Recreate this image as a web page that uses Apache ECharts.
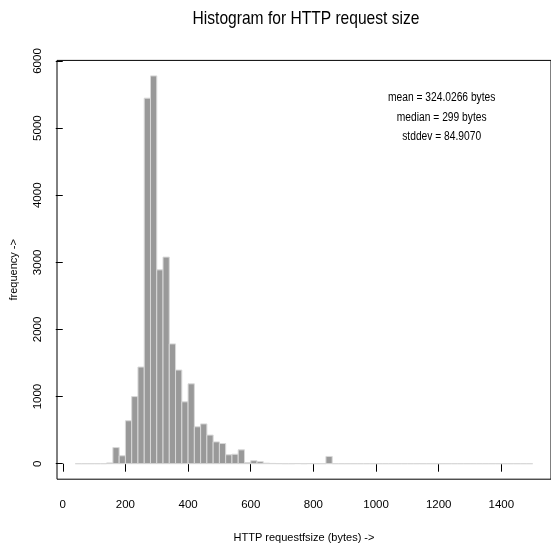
<!DOCTYPE html>
<html>
<head>
<meta charset="utf-8">
<script src="https://cdn.jsdelivr.net/npm/echarts@6/dist/echarts.min.js"></script>
<style>
  html, body { margin: 0; padding: 0; background: #fff; }
  #chart { width: 551px; height: 552px; }
</style>
</head>
<body>
<div id="chart"></div>
<script>
// Histogram bins: lower edge of each 20-byte bin and its count
const binWidth = 20;
const binLower = [
  40, 60, 80, 100, 120, 140, 160, 180, 200, 220, 240, 260, 280, 300, 320, 340,
  360, 380, 400, 420, 440, 460, 480, 500, 520, 540, 560, 580, 600, 620, 640, 660,
  680, 700, 720, 740, 760, 780, 800, 820, 840, 860, 880, 900, 920, 940, 960, 980,
  1000, 1020, 1040, 1060, 1080, 1100, 1120, 1140, 1160, 1180, 1200, 1220, 1240, 1260, 1280, 1300,
  1320, 1340, 1360, 1380, 1400, 1420, 1440, 1460, 1480
];
const binCount = [
  0, 0, 0, 0, 0, 12, 240, 118, 640, 1000, 1440, 5446, 5778, 2888, 3078, 1785,
  1395, 922, 1190, 550, 593, 426, 325, 300, 133, 141, 206, 18, 45, 30, 8, 4,
  2, 0, 0, 3, 0, 3, 0, 0, 108, 0, 0, 0, 0, 0, 0, 0,
  0, 0, 0, 0, 0, 0, 0, 0, 0, 0, 0, 0, 0, 0, 0, 0,
  0, 0, 0, 0, 0, 0, 0, 0, 0
];

// Axis tick values and summary statistics
const xTicks = [0, 200, 400, 600, 800, 1000, 1200, 1400];
const yTicks = [0, 1000, 2000, 3000, 4000, 5000, 6000];
const titleText = 'Histogram for HTTP request size';
const statLines = ['mean = 324.0266 bytes', 'median = 299 bytes', 'stddev = 84.9070'];

const FONT = '"Liberation Sans", Arial, sans-serif';
// horizontal squeeze to get a narrow Helvetica look
const NARROW = 0.82;

const histData = binLower.map((lo, i) => [lo, lo + binWidth, binCount[i]]);

const chart = echarts.init(document.getElementById('chart'), null, { renderer: 'canvas' });

const texts = [{
  type: 'text',
  x: 306, y: 19,
  scaleX: NARROW,
  style: {
    text: titleText, fill: '#000', font: '19px ' + FONT,
    textAlign: 'center', textVerticalAlign: 'middle'
  }
}].concat(statLines.map((t, i) => ({
  type: 'text',
  x: 441.7,
  y: 98 + i * 19.5,
  scaleX: NARROW,
  style: {
    text: t, fill: '#000', font: '12.5px ' + FONT,
    textAlign: 'center', textVerticalAlign: 'middle'
  }
})));

chart.setOption({
  backgroundColor: '#ffffff',
  animation: false,
  grid: {
    left: 57, right: -3.2, top: 60.4, bottom: 72.8,
    show: true, borderColor: '#000', borderWidth: 1, backgroundColor: 'transparent'
  },
  xAxis: {
    type: 'value',
    min: -18.4, max: 1558.4,
    name: 'HTTP requestfsize (bytes) ->',
    nameLocation: 'middle',
    nameGap: 53,
    nameTextStyle: { fontFamily: FONT, fontSize: 11, color: '#000' },
    axisLine: { show: false },
    splitLine: { show: false },
    axisTick: { show: true, customValues: xTicks, length: 8, lineStyle: { color: '#000' } },
    axisLabel: {
      customValues: xTicks, margin: 20, fontFamily: FONT, fontSize: 11.5, color: '#000',
      formatter: v => String(v)
    }
  },
  yAxis: {
    type: 'value',
    min: -231, max: 6009,
    name: 'frequency ->',
    nameLocation: 'middle',
    nameGap: 38,
    nameTextStyle: { fontFamily: FONT, fontSize: 11, color: '#000' },
    axisLine: { show: false },
    splitLine: { show: false },
    axisTick: { show: true, customValues: yTicks, length: 7, lineStyle: { color: '#000' } },
    axisLabel: {
      customValues: yTicks, rotate: 90, margin: 13, fontFamily: FONT, fontSize: 11.5, color: '#000',
      formatter: v => String(v)
    }
  },
  graphic: texts,
  series: [{
    type: 'custom',
    data: histData,
    encode: { x: [0, 1], y: 2 },
    clip: true,
    renderItem: function (params, api) {
      const lo = api.value(0), hi = api.value(1), c = api.value(2);
      const pTop = api.coord([lo, c]);
      const pBase = api.coord([hi, 0]);
      return {
        type: 'rect',
        shape: { x: pTop[0], y: pTop[1], width: pBase[0] - pTop[0], height: pBase[1] - pTop[1] },
        style: { fill: '#999999', stroke: '#d8d8d8', lineWidth: 1 }
      };
    }
  }]
});
</script>
</body>
</html>
